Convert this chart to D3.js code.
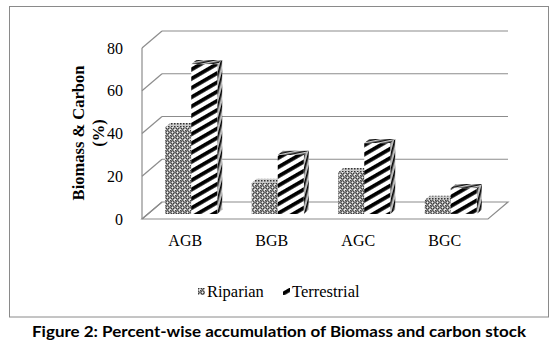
<!DOCTYPE html>
<html><head><meta charset="utf-8">
<script src="https://cdn.jsdelivr.net/npm/d3@7"></script>
<style>body{margin:0;background:#fff}svg{display:block}</style>
</head><body>
<script>
const categories = ["AGB", "BGB", "AGC", "BGC"];
const seriesNames = ["Riparian", "Terrestrial"];
const riparian = [40.5, 14.5, 19.5, 6.5];
const terrestrial = [70, 27.5, 33, 12];
const yTicks = [0, 20, 40, 60, 80];
const caption = "Figure 2: Percent-wise accumulation of Biomass and carbon stock";
const yTitle = ["Biomass & Carbon", "(%)"];

const W = 554, H = 356;
const svg = d3.select("body").append("svg").attr("width", W).attr("height", H);
const defs = svg.append("defs");

// patterns
const pr = defs.append("pattern").attr("id", "rip").attr("patternUnits", "userSpaceOnUse")
  .attr("width", 5).attr("height", 5);
pr.append("rect").attr("width", 5).attr("height", 5).attr("fill", "#f4f4f4");
pr.append("circle").attr("cx", 2.5).attr("cy", 2.5).attr("r", 1.7).attr("fill", "none").attr("stroke", "#222").attr("stroke-width", 1.1);
pr.append("rect").attr("x", 0).attr("y", 0).attr("width", 1.2).attr("height", 1.2).attr("fill", "#444");
const prt = defs.append("pattern").attr("id", "ripTop").attr("patternUnits", "userSpaceOnUse")
  .attr("width", 3).attr("height", 3);
prt.append("rect").attr("width", 3).attr("height", 3).attr("fill", "#ccc");
prt.append("rect").attr("width", 1.5).attr("height", 1.5).attr("fill", "#333");

const pt = defs.append("pattern").attr("id", "ter").attr("patternUnits", "userSpaceOnUse")
  .attr("width", 10).attr("height", 8).attr("patternTransform", "rotate(-30)");
pt.append("rect").attr("width", 10).attr("height", 8).attr("fill", "#fff");
pt.append("rect").attr("y", 2).attr("width", 10).attr("height", 3.8).attr("fill", "#000");
const pts = defs.append("pattern").attr("id", "terSide").attr("patternUnits", "userSpaceOnUse")
  .attr("width", 4).attr("height", 4).attr("patternTransform", "rotate(-75)");
pts.append("rect").attr("width", 4).attr("height", 4).attr("fill", "#bbb");
pts.append("rect").attr("y", 1).attr("width", 4).attr("height", 1.6).attr("fill", "#000");
const ptt = defs.append("pattern").attr("id", "terTop").attr("patternUnits", "userSpaceOnUse")
  .attr("width", 4).attr("height", 3).attr("patternTransform", "rotate(-12)");
ptt.append("rect").attr("width", 4).attr("height", 3).attr("fill", "#ccc");
ptt.append("rect").attr("y", 0.5).attr("width", 4).attr("height", 1.4).attr("fill", "#000");

const fills = [
  {front: "url(#rip)", side: "url(#ripTop)", top: "url(#ripTop)"},
  {front: "url(#ter)", side: "url(#terSide)", top: "url(#terTop)"}
];

// frame
svg.append("rect").attr("x", 9.5).attr("y", 6.5).attr("width", 539).attr("height", 310.5)
  .attr("fill", "none").attr("stroke", "#8a8a8a").attr("stroke-width", 1);

// scales (front plane)
const y = d3.scaleLinear().domain([0, 80]).range([219, 48]);
const x = d3.scaleBand().domain(categories).range([142, 488]).padding(0);
const DX = 20, DY = -17;
const P = (px, v, f) => [px + DX * f, y(v) + DY * f];
const gridColor = "#8c8c8c";

const g = svg.append("g");
// back wall gridlines
yTicks.forEach(t => {
  const a = P(142, t, 1), b = P(488, t, 1);
  if (t > 0) g.append("line").attr("x1", a[0]).attr("y1", a[1]).attr("x2", b[0]).attr("y2", b[1])
    .attr("stroke", gridColor).attr("stroke-width", 1.2);
  const c = P(142, t, 0);
  g.append("line").attr("x1", c[0]).attr("y1", c[1]).attr("x2", a[0]).attr("y2", a[1])
    .attr("stroke", gridColor).attr("stroke-width", 1.2);
});
// left wall front edge
g.append("line").attr("x1", 142).attr("x2", 142).attr("y1", y(80)).attr("y2", y(0))
  .attr("stroke", gridColor).attr("stroke-width", 1.2);
// floor
const floorPts = [P(142, 0, 0), P(488, 0, 0), P(488, 0, 1), P(142, 0, 1)];
g.append("polygon").attr("points", floorPts.map(p => p.join(",")).join(" "))
  .attr("fill", "none").attr("stroke", gridColor).attr("stroke-width", 1.2);

// bars
const fa = 0.3, fb = 0.55, barW = 26;
const data = [riparian, terrestrial];
categories.forEach((cat, i) => {
  const start = x(cat) + (x.bandwidth() - 2 * barW) / 2;
  data.forEach((vals, s) => {
    const v = vals[i];
    const x0 = start + s * barW, x1 = x0 + barW;
    const bg = g.append("g");
    const poly = (pts, fill) => bg.append("polygon").attr("points", pts.map(p => p.join(",")).join(" "))
      .attr("fill", fill).attr("stroke", "none");
    poly([P(x1, 0, fa), P(x1, 0, fb), P(x1, v, fb), P(x1, v, fa)], fills[s].side);
    poly([P(x0, v, fa), P(x1, v, fa), P(x1, v, fb), P(x0, v, fb)], fills[s].top);
    poly([P(x0, 0, fa), P(x1, 0, fa), P(x1, v, fa), P(x0, v, fa)], fills[s].front);
  });
});

// y tick labels
const serif = "'Liberation Serif','Times New Roman',serif";
yTicks.forEach(t => {
  svg.append("text").attr("x", 123).attr("y", y(t)).attr("dy", "0.35em")
    .attr("text-anchor", "end").attr("font-family", serif).attr("font-size", 16).attr("fill", "#000").text(t);
});
// y title
const yt = svg.append("text").attr("transform", "translate(78,133) rotate(-90)")
  .attr("text-anchor", "middle").attr("font-family", serif).attr("font-size", 16.5)
  .attr("font-weight", "bold").attr("fill", "#000");
yt.append("tspan").attr("x", 0).attr("dy", "0.35em").text(yTitle[0]);
yt.append("tspan").attr("x", 0).attr("dy", "1.2em").text(yTitle[1]);

// category labels
categories.forEach(cat => {
  svg.append("text").attr("x", x(cat) + x.bandwidth() / 2).attr("y", 246)
    .attr("text-anchor", "middle").attr("font-family", serif).attr("font-size", 16).attr("fill", "#000").text(cat);
});

// legend
const legX = [198, 283];
seriesNames.forEach((n, s) => {
  svg.append("rect").attr("x", legX[s]).attr("y", 288).attr("width", 7).attr("height", 7).attr("fill", fills[s].front);
  svg.append("text").attr("x", legX[s] + 9).attr("y", 297).attr("font-family", serif)
    .attr("font-size", 16.5).attr("fill", "#000").text(n);
});

// caption
svg.append("text").attr("x", 32).attr("y", 337).attr("textLength", 494).attr("lengthAdjust", "spacingAndGlyphs")
  .attr("font-family", "Lato, 'Open Sans', sans-serif").attr("font-weight", "bold").attr("font-size", 16)
  .attr("fill", "#000").text(caption);
</script>
</body></html>
